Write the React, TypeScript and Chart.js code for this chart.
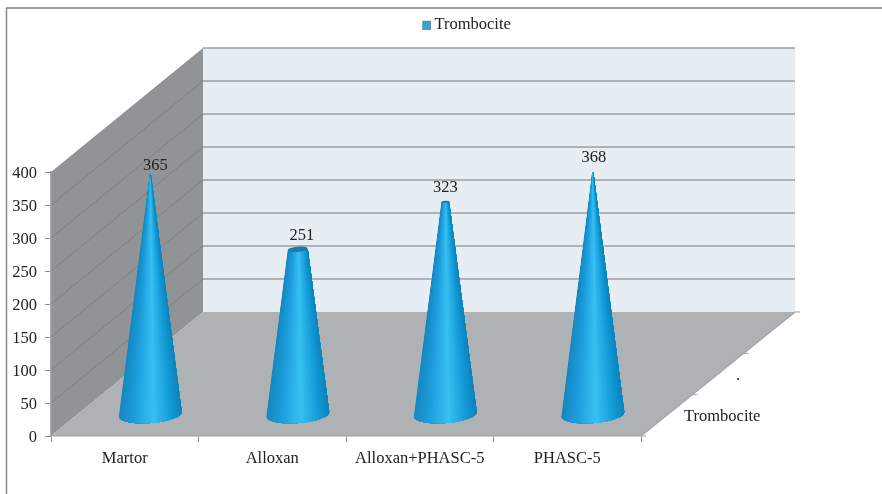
import React, { useEffect, useRef } from "react";
import { Chart, registerables } from "chart.js";

Chart.register(...registerables);

const categories = ["Martor", "Alloxan", "Alloxan+PHASC-5", "PHASC-5"];
const seriesName = "Trombocite";
const trombociteValues = [365, 251, 323, 368];
const valueTicks = { min: 0, max: 400, step: 50 };

const SERIF = "'Liberation Serif', serif";
const FONT_SIZE = 16.5;
const TEXT = "#222222";

// Oblique projection of the chart box.
const DEPTH_X = 152;
const DEPTH_Y = -124;
const CONE_DX = 25.5;
const CONE_DY = -21;
const ELLIPSE_RATIO = 0.27;
const ELLIPSE_TILT = -0.08;

// Small hand placements of the value labels, relative to each cone tip.
const labelNudgeX = [5, 4, 0, 1];
const labelNudgeY = [-8, -14, -14, -14];

const coneShade: [number, number[]][] = [
  [0, [22, 134, 190]],
  [0.25, [28, 158, 220]],
  [0.55, [56, 192, 242]],
  [0.85, [16, 152, 212]],
  [1, [14, 130, 186]],
];

function shadeAt(u: number): string {
  for (let i = 1; i < coneShade.length; i++) {
    const [p0, c0] = coneShade[i - 1];
    const [p1, c1] = coneShade[i];
    if (u <= p1) {
      const t = (u - p0) / (p1 - p0);
      const c = c0.map((v, k) => Math.round(v + (c1[k] - v) * t));
      return `rgb(${c[0]},${c[1]},${c[2]})`;
    }
  }
  return "rgb(14,130,186)";
}

function polygon(ctx: CanvasRenderingContext2D, pts: number[][], fill: string) {
  ctx.beginPath();
  pts.forEach(([x, y], i) => (i ? ctx.lineTo(x, y) : ctx.moveTo(x, y)));
  ctx.closePath();
  ctx.fillStyle = fill;
  ctx.fill();
}

function segment(
  ctx: CanvasRenderingContext2D,
  x0: number,
  y0: number,
  x1: number,
  y1: number,
  color: string,
  width: number
) {
  ctx.beginPath();
  ctx.moveTo(x0, y0);
  ctx.lineTo(x1, y1);
  ctx.strokeStyle = color;
  ctx.lineWidth = width;
  ctx.stroke();
}

// Square legend key, placed on the right of a wider transparent sprite so it
// sits close to its text.
function legendSwatch(): HTMLCanvasElement {
  const sprite = document.createElement("canvas");
  sprite.width = 19;
  sprite.height = 10;
  const g = sprite.getContext("2d") as CanvasRenderingContext2D;
  g.fillStyle = "#2ea6da";
  g.fillRect(10, 1, 9, 9);
  g.strokeStyle = "#6f8f9f";
  g.lineWidth = 1;
  g.strokeRect(10.5, 1.5, 8, 8);
  return sprite;
}

function drawCone(
  ctx: CanvasRenderingContext2D,
  cx: number,
  topY: number,
  baseY: number,
  rb: number,
  rt: number
) {
  const ry = rb * ELLIPSE_RATIO;
  ctx.save();
  ctx.beginPath();
  ctx.ellipse(cx, baseY, rb, ry, ELLIPSE_TILT, 0, Math.PI);
  ctx.lineTo(cx - rt, topY);
  ctx.lineTo(cx + rt, topY);
  ctx.closePath();
  ctx.clip();

  // Shaded bands converge on the tip so the highlight follows the surface.
  // Each band runs through to the right edge and the next one paints over it.
  const bands = 48;
  const bottom = baseY + ry + 4;
  const reach = (bottom - topY) / (baseY - topY);
  const edge = (u: number) => {
    const top = cx + rt * (2 * u - 1);
    const base = cx + rb * (2 * u - 1);
    return [top, top + (base - top) * reach];
  };
  const [tEnd, bEnd] = edge(1);
  for (let i = 0; i < bands; i++) {
    const [t0, b0] = edge(i / bands);
    polygon(
      ctx,
      [
        [t0, topY],
        [tEnd + 1, topY],
        [bEnd + 1, bottom],
        [b0, bottom],
      ],
      shadeAt((i + 0.5) / bands)
    );
  }
  ctx.restore();

  if (rt > 2) {
    ctx.beginPath();
    ctx.ellipse(cx, topY, rt, rt * ELLIPSE_RATIO, ELLIPSE_TILT, 0, Math.PI * 2);
    ctx.fillStyle = "#1c7ea6";
    ctx.fill();
  }
}

const boxPlugin = {
  id: "box3d",
  beforeLayout(chart: any) {
    // Reserve the band above the plot for the legend alone.
    const legend = chart.legend;
    if (legend.bandFit) return;
    const fit = legend.fit;
    legend.bandFit = true;
    legend.fit = function () {
      fit.call(this);
      this.height = 165.5;
    };
  },
  afterLayout(chart: any) {
    // The legend centres on the box, not the whole canvas.
    chart.legend.left = 46;
  },
  beforeDraw(chart: any) {
    const { ctx, chartArea, scales } = chart;
    const { left, right, top, bottom } = chartArea;
    ctx.save();

    // Value labels sit a touch below their tick marks.
    const items = scales.y.getLabelItems(chartArea);
    if (!items.lowered) {
      items.lowered = true;
      items.forEach((item: any) => {
        item.options.translation[1] += 2;
      });
    }

    // Page frame
    segment(ctx, 6.5, 8, 6.5, 494, "#8a8a8a", 1.5);
    segment(ctx, 6, 8, 882, 8, "#7f7f7f", 1.5);

    // Side wall, back wall and floor
    polygon(
      ctx,
      [
        [left, top],
        [left + DEPTH_X, top + DEPTH_Y],
        [left + DEPTH_X, bottom + DEPTH_Y],
        [left, bottom],
      ],
      "#909497"
    );
    polygon(
      ctx,
      [
        [left + DEPTH_X, top + DEPTH_Y],
        [right + DEPTH_X + 2, top + DEPTH_Y],
        [right + DEPTH_X + 2, bottom + DEPTH_Y],
        [left + DEPTH_X, bottom + DEPTH_Y],
      ],
      "#e6edf3"
    );
    polygon(
      ctx,
      [
        [left, bottom],
        [right, bottom],
        [right + DEPTH_X + 2, bottom + DEPTH_Y],
        [left + DEPTH_X, bottom + DEPTH_Y],
      ],
      "#aeb2b5"
    );

    // Gridlines wrap from the side wall onto the back wall
    const y = scales.y;
    y.ticks.forEach((tick: any) => {
      if (tick.value === valueTicks.min) return;
      const py = y.getPixelForValue(tick.value);
      if (tick.value !== valueTicks.max) {
        segment(ctx, left, py, left + DEPTH_X, py + DEPTH_Y, "#7d8183", 1);
      }
      segment(ctx, left + DEPTH_X, py + DEPTH_Y, right + DEPTH_X + 2, py + DEPTH_Y, "#9b9ea1", 1.5);
    });

    // Depth axis along the right edge of the floor
    const ex = right + DEPTH_X + 2;
    const ey = bottom + DEPTH_Y;
    segment(ctx, right, bottom, ex, ey, "#a4a7a9", 1.5);
    [0, 1 / 3, 2 / 3, 1].forEach((f) => {
      const tx = right + (ex - right) * f;
      const ty = bottom + (ey - bottom) * f;
      segment(ctx, tx, ty, tx + 5, ty, "#a0a0a0", 1);
    });
    ctx.font = `${FONT_SIZE}px ${SERIF}`;
    ctx.fillStyle = TEXT;
    ctx.textAlign = "left";
    ctx.textBaseline = "middle";
    ctx.fillText(seriesName, right + 43, bottom - 19);
    ctx.fillText(".", right + 95, bottom - 60);
    ctx.restore();
  },
  beforeDatasetDraw(chart: any, args: any) {
    const { ctx } = chart;
    const meta = args.meta;
    const peak = Math.max(...trombociteValues);
    meta.data.forEach((bar: any, i: number) => {
      const rb = bar.width / 2;
      const rt = rb * (1 - trombociteValues[i] / peak);
      drawCone(ctx, bar.x + CONE_DX, bar.y + CONE_DY, bar.base + CONE_DY, rb, Math.max(rt, 0.6));
    });
    // The stock rectangles are replaced by the cones above.
    return false;
  },
  afterDatasetsDraw(chart: any) {
    const { ctx } = chart;
    const meta = chart.getDatasetMeta(0);
    ctx.save();
    ctx.font = `${FONT_SIZE}px ${SERIF}`;
    ctx.fillStyle = TEXT;
    ctx.textAlign = "center";
    ctx.textBaseline = "middle";
    meta.data.forEach((bar: any, i: number) => {
      ctx.fillText(
        String(trombociteValues[i]),
        bar.x + CONE_DX + labelNudgeX[i],
        bar.y + CONE_DY + labelNudgeY[i]
      );
    });
    ctx.restore();
  },
};

export default function App() {
  const canvasRef = useRef<HTMLCanvasElement>(null);

  useEffect(() => {
    const chart = new Chart(canvasRef.current as HTMLCanvasElement, {
      type: "bar",
      data: {
        labels: categories,
        datasets: [
          {
            label: seriesName,
            data: trombociteValues,
            backgroundColor: "#2ea6da",
            pointStyle: legendSwatch(),
            categoryPercentage: 1,
            barPercentage: 0.428,
          },
        ],
      },
      options: {
        responsive: false,
        animation: false,
        layout: { padding: { top: 6.5, left: 0, right: 0, bottom: 0 } },
        plugins: {
          tooltip: { enabled: false },
          legend: {
            position: "top",
            labels: {
              usePointStyle: true,
              boxWidth: 9,
              boxHeight: 9,
              padding: 10,
              color: TEXT,
              font: { family: SERIF, size: FONT_SIZE },
            },
          },
        },
        scales: {
          x: {
            afterFit: (s: any) => {
              s.height = 58;
            },
            grid: { drawOnChartArea: false, color: "#8f8f8f", tickLength: 6 },
            border: { color: "#a4a7a9", width: 1.5 },
            ticks: {
              color: TEXT,
              padding: 7,
              maxRotation: 0,
              autoSkip: false,
              font: { family: SERIF, size: FONT_SIZE },
            },
          },
          y: {
            min: valueTicks.min,
            max: valueTicks.max,
            afterFit: (s: any) => {
              s.width = 51;
            },
            grid: { drawOnChartArea: false, color: "#8f8f8f", tickLength: 6 },
            border: { color: "#a4a7a9", width: 1.5 },
            ticks: {
              stepSize: valueTicks.step,
              color: TEXT,
              padding: 8,
              font: { family: SERIF, size: FONT_SIZE },
            },
          },
          // Empty axis that keeps the floor's projected corner clear on the right.
          depth: {
            type: "linear",
            position: "right",
            afterFit: (s: any) => {
              s.width = 241;
            },
            grid: { display: false },
            border: { display: false },
            ticks: { display: false },
          },
        },
      },
      plugins: [boxPlugin],
    } as any);
    return () => chart.destroy();
  }, []);

  return (
    <div style={{ position: "absolute", left: 0, top: 0, width: 882, height: 494, background: "#ffffff" }}>
      <canvas ref={canvasRef} width={882} height={494} style={{ display: "block" }} />
    </div>
  );
}
